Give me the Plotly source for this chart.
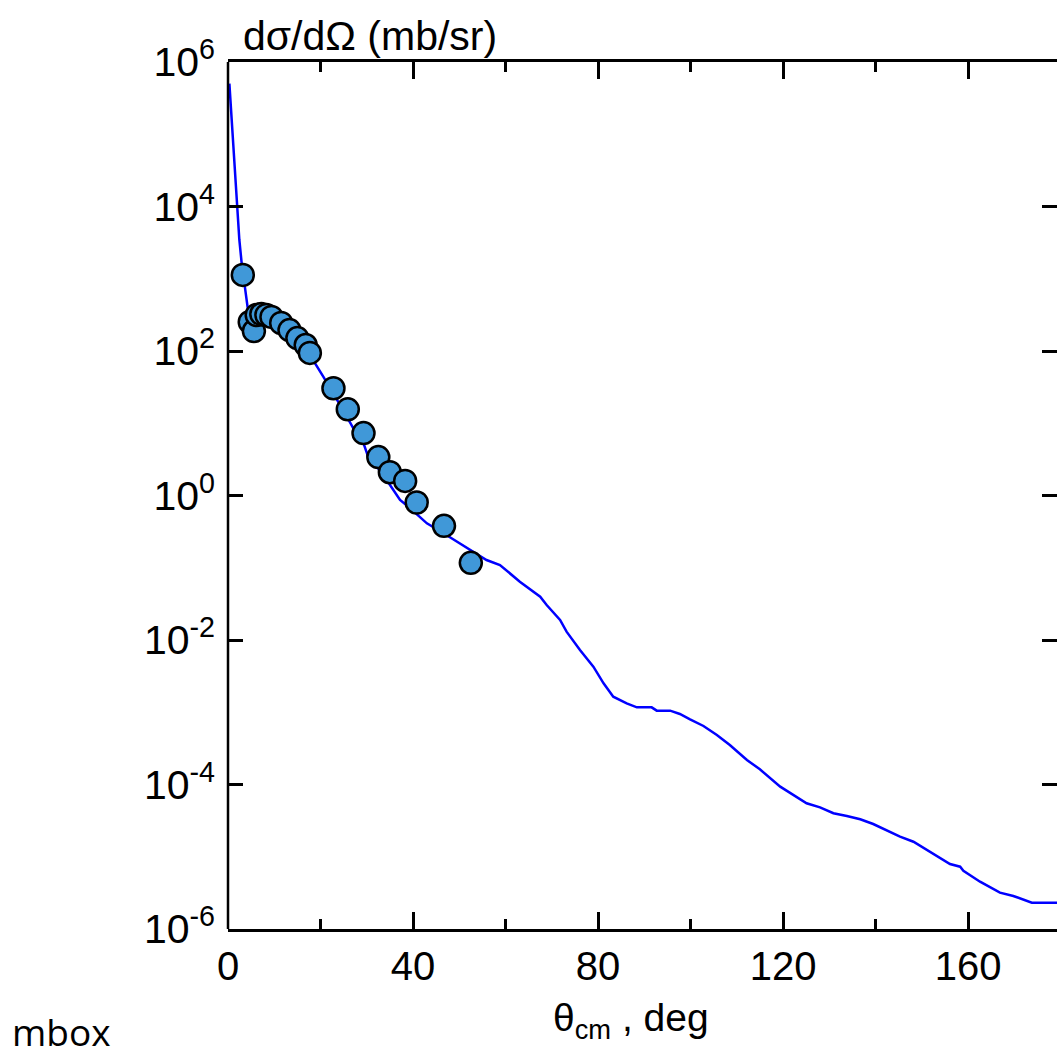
import plotly.graph_objects as go

# ---- data ----
exp_theta = [3.2, 4.7, 5.6, 6.2, 7.2, 8.3, 9.4, 11.5, 13.3, 15.0, 16.8, 17.7,
             22.8, 25.9, 29.3, 32.5, 35.0, 38.3, 40.8, 46.7, 52.5]
exp_xs = [1130, 252, 189, 315, 325, 315, 296, 244, 195, 151, 121, 94,
          30.5, 15.6, 7.3, 3.4, 2.1, 1.59, 0.80, 0.38, 0.117]

calc_theta = [0.3, 1.15, 1.9, 2.45, 2.95, 3.7, 4.4, 5.1, 6.5, 8.4, 10.5, 12.7, 14.9, 17.0,
              18.4, 20.6, 22.8, 24.9, 27.1, 29.3, 30.3, 32.2, 34.3, 37.2, 39.4, 43.0,
              46.6, 50.2, 53.0, 55.9, 58.8, 63.1, 67.5, 68.9, 71.8, 73.2, 76.1, 79.0,
              81.2, 83.3, 86.2, 88.4, 91.6, 92.7, 95.6, 97.7, 99.9, 102.8, 105.7, 108.5,
              112.2, 115.0, 119.4, 122.2, 125.1, 128.0, 130.9, 133.8, 136.7, 139.5, 142.4,
              145.3, 148.2, 151.1, 154.0, 156.1, 158.3, 159.0, 162.6, 164.8, 166.9, 169.8,
              172.0, 173.8, 180.0]
calc_log = [5.70, 4.78, 4.09, 3.54, 3.22, 2.84, 2.53, 2.43, 2.475, 2.457, 2.406, 2.336, 2.221, 2.059,
            1.875, 1.644, 1.415, 1.183, 0.930, 0.723, 0.537, 0.399, 0.215, -0.062, -0.177, -0.385,
            -0.523, -0.662, -0.778, -0.893, -0.962, -1.193, -1.401, -1.516, -1.723, -1.885, -2.138, -2.369,
            -2.599, -2.785, -2.876, -2.932, -2.932, -2.978, -2.978, -3.024, -3.098, -3.190, -3.315, -3.453,
            -3.661, -3.790, -4.030, -4.145, -4.260, -4.316, -4.398, -4.436, -4.482, -4.547, -4.630,
            -4.722, -4.792, -4.907, -5.021, -5.100, -5.138, -5.193, -5.345, -5.422, -5.497, -5.543,
            -5.589, -5.636, -5.636]
calc_xs = [10 ** v for v in calc_log]

y_tickvals = [1e-6, 1e-4, 1e-2, 1e0, 1e2, 1e4, 1e6]
y_ticktext = ["10<sup>-6</sup>", "10<sup>-4</sup>", "10<sup>-2</sup>", "10<sup>0</sup>",
              "10<sup>2</sup>", "10<sup>4</sup>", "10<sup>6</sup>"]
x_tickvals = [0, 40, 80, 120, 160]

# ---- layout geometry (pixels) ----
W, H = 1057, 1057
L, T, B = 228, 62, 929
R = W
XMAX = 179.24

def px(xp):
    return (xp - L) / (R - L)

def py(yp):
    return (B - yp) / (B - T)

FONT = "Arial, Liberation Sans, sans-serif"

fig = go.Figure()
fig.add_trace(go.Scatter(x=calc_theta, y=calc_xs, mode="lines",
                         line=dict(color="#0000ff", width=2.5), showlegend=False))
fig.add_trace(go.Scatter(x=exp_theta, y=exp_xs, mode="markers",
                         marker=dict(size=22, color="#4098d8",
                                     line=dict(color="black", width=2.5)),
                         showlegend=False))

fig.update_layout(
    width=W, height=H,
    margin=dict(l=L, r=W - R, t=T, b=H - B),
    paper_bgcolor="white", plot_bgcolor="white",
    font=dict(family=FONT, size=40, color="black"),
    showlegend=False,
    xaxis=dict(range=[0, XMAX], tickvals=x_tickvals, ticks="inside", ticklen=17,
               tickwidth=2.5, tickcolor="black", showline=True, linewidth=2.5,
               linecolor="black", mirror="ticks", showgrid=False, zeroline=False,
               tickfont=dict(family=FONT, size=40), ticklabelstandoff=0,
               minor=dict(tick0=0, dtick=20, ticks="inside", ticklen=10,
                          tickwidth=2.5, tickcolor="black", showgrid=False)),
    yaxis=dict(type="log", range=[-6, 6], tickvals=y_tickvals, ticktext=y_ticktext,
               ticks="inside", ticklen=15, tickwidth=2.5, tickcolor="black",
               showline=False, mirror="ticks", showgrid=False, zeroline=False,
               tickfont=dict(family=FONT, size=41), ticklabelstandoff=12),
    shapes=[dict(type="line", xref="paper", yref="paper", x0=0, x1=0, y0=0, y1=1,
                 line=dict(color="black", width=2.5))],
    annotations=[
        dict(text="dσ/dΩ (mb/sr)", xref="paper", yref="paper", x=px(241), y=py(36),
             xanchor="left", yanchor="middle", showarrow=False,
             font=dict(family=FONT, size=41, color="black")),
        dict(text="θ<sub>cm</sub> , deg", xref="paper", yref="paper", x=px(551), y=py(1020),
             xanchor="left", yanchor="middle", showarrow=False,
             font=dict(family=FONT, size=39, color="black")),
        dict(text="mbox", xref="paper", yref="paper", x=px(10), y=py(1031),
             xanchor="left", yanchor="middle", showarrow=False,
             font=dict(family="Open Sans", size=37, color="black")),
    ],
)

fig.write_html("out.html")
